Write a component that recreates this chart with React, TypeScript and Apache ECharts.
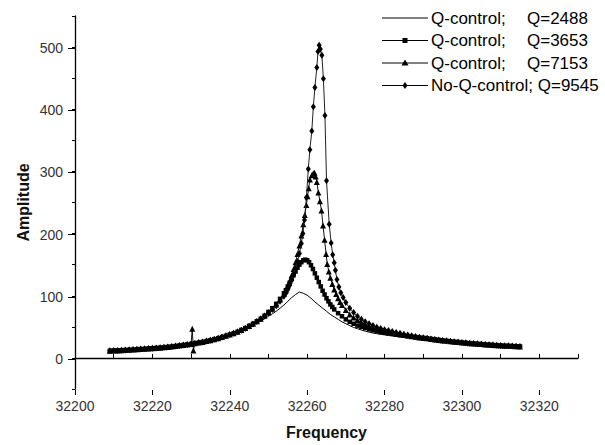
import React, { useEffect, useRef } from "react";
import * as echarts from "echarts";

// shared off-resonance tails (all curves coincide there)
const leftFreq = [32209, 32210, 32211, 32212, 32213, 32214, 32215, 32216, 32217, 32218, 32219, 32220, 32221, 32222, 32223, 32224, 32225, 32226, 32227, 32228, 32229, 32230, 32231, 32232, 32233, 32234, 32235, 32236, 32237, 32238, 32239];
const leftAmp = [11.5, 11.8, 12.1, 12.4, 12.7, 13.0, 13.4, 13.8, 14.2, 14.6, 15.0, 15.5, 16.0, 16.5, 17.1, 17.7, 18.4, 19.1, 19.9, 20.7, 21.6, 22.5, 23.5, 24.6, 25.8, 27.1, 28.5, 30.0, 31.7, 33.5, 35.5];
const rightFreq = [32291, 32292, 32293, 32294, 32295, 32296, 32297, 32298, 32299, 32300, 32301, 32302, 32303, 32304, 32305, 32306, 32307, 32308, 32309, 32310, 32311, 32312, 32313, 32314, 32315];
const rightAmp = [31.5, 30.6, 29.8, 29.0, 28.2, 27.5, 26.8, 26.1, 25.5, 24.9, 24.3, 23.7, 23.2, 22.7, 22.2, 21.7, 21.3, 20.9, 20.5, 20.1, 19.7, 19.4, 19.1, 18.8, 18.5];

// Q-control; Q=2488 (plain line)
const thinFreq = [32240, 32241, 32242, 32243, 32244, 32245, 32246, 32247, 32248, 32249, 32250, 32251, 32252, 32253, 32254, 32255, 32256, 32257, 32258, 32259, 32260, 32261, 32262, 32263, 32264, 32265, 32266, 32267, 32268, 32269, 32270, 32271, 32272, 32273, 32274, 32275, 32276, 32277, 32278, 32279, 32280, 32281, 32282, 32283, 32284, 32285, 32286, 32287, 32288, 32289, 32290];
const thinAmp = [36, 38, 40, 43, 46, 49, 53, 56, 59, 63, 67, 71, 75, 80, 85, 91, 97, 102, 106, 104, 101, 96, 90, 85, 80, 75, 70, 66, 62, 58, 55, 52, 49, 47, 45, 43, 41.5, 40, 39, 38, 37, 36.2, 35.5, 34.8, 34.2, 33.6, 33.1, 32.6, 32.3, 32.0, 31.8];

// Q-control; Q=3653 (squares)
const sqFreq = [32240, 32241, 32242, 32243, 32244, 32245, 32246, 32247, 32248, 32249, 32250, 32251, 32252, 32253, 32254, 32254.5, 32255, 32255.5, 32256, 32256.5, 32257, 32257.5, 32258, 32258.5, 32259, 32259.5, 32260, 32260.5, 32261, 32261.5, 32262, 32262.5, 32263, 32263.5, 32264, 32264.5, 32265, 32265.5, 32266, 32266.5, 32267, 32268, 32269, 32270, 32271, 32272, 32273, 32274, 32275, 32276, 32277, 32278, 32279, 32280, 32281, 32282, 32283, 32284, 32285, 32286, 32287, 32288, 32289, 32290];
const sqAmp = [37.5, 39.5, 42, 45, 48, 51.5, 55, 59, 63, 68, 74, 80, 87, 95, 104, 109, 115, 121, 127, 133, 139, 145, 150, 154, 157, 158, 157, 154, 149, 143, 136, 129, 122, 115, 108, 102, 96, 91, 86, 82, 78, 72, 67, 62, 58, 55, 52, 50, 48, 46, 44.5, 43, 41.5, 40.5, 39.5, 38.5, 37.5, 36.5, 35.7, 35, 34.2, 33.5, 32.8, 32.2];

// Q-control; Q=7153 (triangles)
const triFreq = [32240, 32241, 32242, 32243, 32244, 32245, 32246, 32247, 32248, 32249, 32250, 32251, 32252, 32253, 32254, 32254.5, 32255, 32255.5, 32256, 32256.5, 32257, 32257.5, 32258, 32258.5, 32259, 32259.4, 32259.8, 32260.1, 32260.4, 32260.7, 32261.2, 32261.6, 32261.9, 32262.2, 32262.5, 32262.9, 32263.3, 32263.7, 32264.1, 32264.5, 32264.9, 32265.2, 32265.6, 32266, 32266.5, 32267, 32267.5, 32268, 32268.5, 32269, 32270, 32271, 32272, 32273, 32274, 32275, 32276, 32277, 32278, 32279, 32280, 32281, 32282, 32283, 32284, 32285, 32286, 32287, 32288, 32289, 32290];
const triAmp = [37.5, 39.5, 42, 45, 48, 51.5, 55, 59, 63, 68, 73, 79, 86, 94, 103, 109, 116, 124, 133, 143, 154, 167, 181, 197, 215, 230, 246, 260, 273, 287, 294, 297, 298, 292, 283, 266, 252, 237, 213, 190, 167, 151, 139, 129, 119, 110, 103, 96, 90, 85, 77, 70, 65, 61, 57, 54, 51, 49, 47, 45, 43.5, 42, 40.5, 39, 38, 37, 36, 35, 34, 33, 32.2];
const spikeFreq = [32230.3, 32230.6];
const spikeAmp = [47, 12];

// No-Q-control; Q=9545 (diamonds)
const diaFreq = [32240, 32241, 32242, 32243, 32244, 32245, 32246, 32247, 32248, 32249, 32250, 32251, 32252, 32253, 32254, 32254.5, 32255, 32255.5, 32256, 32256.5, 32257, 32257.5, 32258, 32258.5, 32258.9, 32259.3, 32259.8, 32260.3, 32260.7, 32261.2, 32261.6, 32262.0, 32262.5, 32262.8, 32263.1, 32263.4, 32263.8, 32264.2, 32264.6, 32265.0, 32265.7, 32266.2, 32266.6, 32267.0, 32267.3, 32267.7, 32268.2, 32268.7, 32269.3, 32270, 32271, 32272, 32273, 32274, 32275, 32276, 32277, 32278, 32279, 32280, 32281, 32282, 32283, 32284, 32285, 32286, 32287, 32288, 32289, 32290];
const diaAmp = [37.5, 39.5, 42, 44.5, 47.5, 51, 54.5, 58.5, 63, 67.5, 72.5, 78, 84, 91, 99, 104, 110, 117, 125, 134, 144, 155, 168, 184, 200, 222, 258, 304, 335, 365, 404, 435, 467, 493, 503, 497, 487, 449, 390, 285, 215, 185, 166, 153, 141, 126, 114, 105, 97, 89, 80, 73, 67, 62, 58, 55, 52, 49.5, 47.5, 45.5, 44, 42.5, 41, 39.5, 38, 36.7, 35.5, 34.3, 33.2, 32.3];

const seriesNames = ["Q-control; Q=2488", "Q-control; Q=3653", "Q-control; Q=7153", "No-Q-control; Q=9545"];
const legendLabels = ["Q-control;", "Q-control;", "Q-control;", "No-Q-control;"];
const legendQ = ["Q=2488", "Q=3653", "Q=7153", "Q=9545"];

const FONT = "'Liberation Sans', Arial, sans-serif";

function zip(f: number[], a: number[]) {
  return f.map((x, i) => [x, a[i]]);
}
function build(mid: [number[], number[]], extra?: [number[], number[]]) {
  const pts = [...zip(leftFreq, leftAmp), ...zip(mid[0], mid[1]), ...zip(rightFreq, rightAmp)];
  if (extra) pts.push(...zip(extra[0], extra[1]));
  return pts.sort((p, q) => p[0] - q[0]);
}

export default function App() {
  const ref = useRef<HTMLDivElement>(null);
  useEffect(() => {
    const chart = echarts.init(ref.current!, null, { renderer: "svg" });
    const black = "#000";
    const lineStyle = { color: "#111", width: 1 };
    const hidden = { show: false };

    // legend drawn as graphics
    const legendGraphics: any[] = [];
    const rowY = [18, 40.5, 63, 85.5];
    const markerShape = (i: number, cx: number, cy: number) => {
      if (i === 1) return { type: "rect", shape: { x: cx - 2.5, y: cy - 2.5, width: 5, height: 5 }, style: { fill: black } };
      if (i === 2) return { type: "polygon", shape: { points: [[cx, cy - 3.5], [cx + 3.5, cy + 2.5], [cx - 3.5, cy + 2.5]] }, style: { fill: black } };
      if (i === 3) return { type: "polygon", shape: { points: [[cx, cy - 3.5], [cx + 2.5, cy], [cx, cy + 3.5], [cx - 2.5, cy]] }, style: { fill: black } };
      return null;
    };
    rowY.forEach((y, i) => {
      legendGraphics.push({ type: "line", shape: { x1: 382, y1: y, x2: 428, y2: y }, style: { stroke: black, lineWidth: 1 } });
      const m = markerShape(i, 405, y);
      if (m) legendGraphics.push(m);
      if (i < 3) {
        legendGraphics.push({ type: "text", x: 431, y, style: { text: legendLabels[i], fill: black, font: `17px ${FONT}`, verticalAlign: "middle" } });
        legendGraphics.push({ type: "text", x: 527, y, style: { text: legendQ[i], fill: black, font: `17px ${FONT}`, verticalAlign: "middle" } });
      } else {
        legendGraphics.push({ type: "text", x: 431, y, style: { text: legendLabels[i] + " " + legendQ[i], fill: black, font: `17px ${FONT}`, verticalAlign: "middle" } });
      }
    });

    const option: any = {
      animation: false,
      backgroundColor: "#fff",
      textStyle: { fontFamily: FONT },
      grid: [
        { left: 75, right: 27, top: 16, bottom: 55 },
        { left: 75, right: 65.7, top: 16, bottom: 55 },
        { left: 75, right: 27, top: 47.8, bottom: 85.7 },
      ],
      xAxis: [
        {
          gridIndex: 0, type: "value", min: 32200, max: 32330, interval: 10,
          axisLine: { show: true, lineStyle: { color: black, width: 1.3 } },
          axisTick: { show: true, inside: true, length: 4, lineStyle: { color: black } },
          axisLabel: { show: false }, splitLine: hidden,
          name: "Frequency", nameLocation: "middle", nameGap: 35,
          nameTextStyle: { fontSize: 16, fontWeight: "bold", color: "#111", fontFamily: FONT },
        },
        {
          gridIndex: 1, type: "value", min: 32200, max: 32320, interval: 20,
          axisLine: { show: false },
          axisTick: { show: true, inside: false, length: 5, lineStyle: { color: black } },
          axisLabel: {
            show: true, fontSize: 14, color: "#333", margin: 9, fontFamily: FONT,
            showMinLabel: true, showMaxLabel: true, formatter: (v: number) => String(v),
          },
          splitLine: hidden,
        },
        { gridIndex: 2, type: "value", min: 32200, max: 32330, show: false },
      ],
      yAxis: [
        {
          gridIndex: 0, type: "value", min: -50, max: 550, interval: 50,
          axisLine: { show: true, lineStyle: { color: black, width: 1.3 } },
          axisTick: { show: true, inside: false, length: 3, lineStyle: { color: black } },
          axisLabel: { show: false }, splitLine: hidden,
          name: "Amplitude", nameLocation: "middle", nameGap: 44,
          nameTextStyle: { fontSize: 16, fontWeight: "bold", color: "#111", fontFamily: FONT },
        },
        { gridIndex: 1, type: "value", min: 0, max: 100, show: false },
        {
          gridIndex: 2, type: "value", min: 0, max: 500, interval: 100,
          axisLine: { show: false },
          axisTick: { show: true, inside: false, length: 7, lineStyle: { color: black } },
          axisLabel: {
            show: true, fontSize: 14, color: "#333", margin: 12, fontFamily: FONT,
            showMinLabel: true, showMaxLabel: true, formatter: (v: number) => String(v),
          },
          splitLine: hidden,
        },
      ],
      series: [
        {
          name: seriesNames[0], type: "line", xAxisIndex: 0, yAxisIndex: 0,
          data: build([thinFreq, thinAmp]), showSymbol: false, symbol: "none",
          lineStyle: { color: black, width: 1 }, z: 2,
        },
        {
          name: seriesNames[1], type: "line", xAxisIndex: 0, yAxisIndex: 0,
          data: build([sqFreq, sqAmp]), symbol: "rect", symbolSize: 4.5, showAllSymbol: true,
          itemStyle: { color: black }, lineStyle, z: 3,
        },
        {
          name: seriesNames[2], type: "line", xAxisIndex: 0, yAxisIndex: 0,
          data: build([triFreq, triAmp], [spikeFreq, spikeAmp]), symbol: "triangle", symbolSize: 6, showAllSymbol: true,
          itemStyle: { color: black }, lineStyle, z: 4,
        },
        {
          name: seriesNames[3], type: "line", xAxisIndex: 0, yAxisIndex: 0,
          data: build([diaFreq, diaAmp]), symbol: "diamond", symbolSize: [5, 7], showAllSymbol: true,
          itemStyle: { color: black }, lineStyle: { color: "#222", width: 1 }, z: 5,
        },
      ],
      graphic: legendGraphics,
    };
    chart.setOption(option);
    return () => chart.dispose();
  }, []);
  return <div ref={ref} style={{ position: "fixed", left: 0, top: 0, width: 605, height: 445 }} />;
}
